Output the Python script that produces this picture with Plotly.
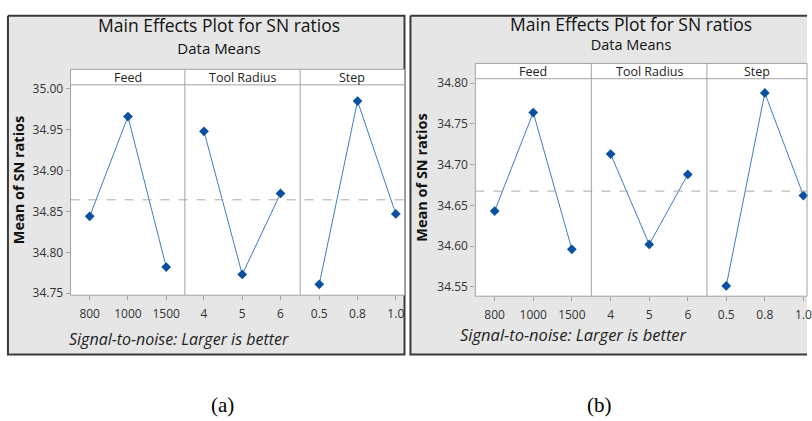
import numpy as np
import plotly.graph_objects as go

# ---------------- data ----------------
factor_names = ["Feed", "Tool Radius", "Step"]
feed_levels = ["800", "1000", "1500"]
radius_levels = ["4", "5", "6"]
step_levels = ["0.5", "0.8", "1.0"]

# panel (a) mean SN ratios
sn_a_feed = [34.844, 34.966, 34.782]
sn_a_radius = [34.948, 34.773, 34.872]
sn_a_step = [34.761, 34.985, 34.847]

# panel (b) mean SN ratios
sn_b_feed = [34.643, 34.764, 34.596]
sn_b_radius = [34.713, 34.602, 34.688]
sn_b_step = [34.551, 34.788, 34.662]

y_ticks_a = [34.75, 34.80, 34.85, 34.90, 34.95, 35.00]
y_ticks_b = [34.55, 34.60, 34.65, 34.70, 34.75, 34.80]
tick_fmt = "{:.2f}"

title_text = "Main Effects Plot for SN ratios"
subtitle_text = "Data Means"
y_title = "Mean of SN ratios"
footnote = "Signal-to-noise: Larger is better"
panel_labels = ["(a)", "(b)"]

# ---------------- layout helpers ----------------
W, H = 812, 421
def px(x):
    return x / W
def py(y):
    return 1 - y / H

FONT = "Open Sans"
LINE_C = "#3d7cc9"
MARK_C = "#0a50a1"
BORDER_C = "#a3a3a3"
FRAME_FILL = "#e6e6e6"
FRAME_LINE = "#3a3a3a"

panels = [
    dict(frame=(8, 11, 407, 359), xedges=[71, 186, 302, 407], ytop=82, ybot=298,
         strip=(66, 82), yrange=[34.7476, 35.0048], yticks=y_ticks_a,
         series=[sn_a_feed, sn_a_radius, sn_a_step],
         title_x=220, title_y=31, base_size=17, title_size=17.5, sub_size=15,
         ytitle=(18, 180), foot=(180, 343), foot_size=16, label=(224, 411)),
    dict(frame=(413, 11, 840, 359), xedges=[478.3, 595, 711.3, 812], ytop=75.7, ybot=299,
         strip=(60, 75.7), yrange=[34.5384, 34.8055], yticks=y_ticks_b,
         series=[sn_b_feed, sn_b_radius, sn_b_step],
         title_x=635, title_y=29, base_size=14.6, title_size=17.5, sub_size=14.5,
         ytitle=(424, 177), foot=(578, 338), foot_size=16.5, label=(603, 411)),
]
levels = [feed_levels, radius_levels, step_levels]

fig = go.Figure()
top_shapes = []
annotations = []
layout_axes = {}

# background subplot in pixel units, drawn beneath the data subplots
layout_axes["xaxis"] = dict(domain=[0, 1], range=[0, W], visible=False, fixedrange=True)
layout_axes["yaxis"] = dict(domain=[0, 1], range=[H, 0], visible=False, fixedrange=True)

def rect_xy(x0, y0, x1, y1):
    return [x0, x1, x1, x0, x0], [y0, y0, y1, y1, y0]

for p in panels:
    rx, ry = rect_xy(*p["frame"])
    fig.add_trace(go.Scatter(x=rx, y=ry, xaxis="x", yaxis="y", mode="lines", fill="toself",
                             fillcolor=FRAME_FILL, line=dict(color=FRAME_LINE, width=2),
                             hoverinfo="skip", showlegend=False))
for p in panels:
    xe = p["xedges"]
    rx, ry = rect_xy(xe[0], p["strip"][0], xe[3], p["strip"][1])
    fig.add_trace(go.Scatter(x=rx, y=ry, xaxis="x", yaxis="y", mode="lines", fill="toself",
                             fillcolor="white", line=dict(width=0, color="white"),
                             hoverinfo="skip", showlegend=False))

ax_i = 1
for p_i, p in enumerate(panels):
    xe = p["xedges"]
    unit = (xe[2] - xe[0]) / 6.0
    yname = "y%d" % (p_i + 2)
    ykey = "yaxis%d" % (p_i + 2)
    first_x = None
    for f_i in range(3):
        ax_i += 1
        xname = "x%d" % ax_i
        xkey = "xaxis%d" % ax_i
        if first_x is None:
            first_x = xname
        width_px = xe[f_i + 1] - xe[f_i]
        rng = [-0.5, -0.5 + width_px / unit]
        layout_axes[xkey] = dict(
            domain=[px(xe[f_i]), px(xe[f_i + 1])], anchor=yname,
            type="category", range=rng, showgrid=False, zeroline=False,
            showline=False, ticks="outside", ticklen=4, tickcolor=BORDER_C,
            ticklabelstandoff=3,
            tickfont=dict(family=FONT, size=12, color="#333333"),
            categoryorder="array", categoryarray=levels[f_i], fixedrange=True)
        vals = p["series"][f_i]
        fig.add_trace(go.Scatter(
            x=levels[f_i], y=vals, xaxis=xname, yaxis=yname, mode="lines+markers",
            line=dict(color=LINE_C, width=1),
            marker=dict(symbol="diamond", size=7.5, color=MARK_C),
            showlegend=False, cliponaxis=False, hoverinfo="x+y"))
        annotations.append(dict(text=factor_names[f_i], xref="paper", yref="paper",
                                x=px((xe[f_i] + xe[f_i + 1]) / 2),
                                y=py((p["strip"][0] + p["strip"][1]) / 2),
                                showarrow=False, xanchor="center", yanchor="middle",
                                font=dict(family=FONT, size=12.5, color="#222222")))
    layout_axes[ykey] = dict(
        domain=[py(p["ybot"]), py(p["ytop"])], anchor=first_x, range=p["yrange"],
        tickvals=p["yticks"], ticktext=[tick_fmt.format(v) for v in p["yticks"]],
        showgrid=False, zeroline=False, showline=False, ticks="outside", ticklen=4,
        tickcolor=BORDER_C, tickfont=dict(family=FONT, size=12, color="#333333"),
        fixedrange=True)

    # overall mean reference line
    grand_mean = float(np.mean(np.concatenate(p["series"])))
    top_shapes.append(dict(type="line", xref="paper", yref=yname, layer="above",
                           x0=px(xe[0]), x1=px(xe[3]), y0=grand_mean, y1=grand_mean,
                           line=dict(color="#a8a8a8", width=1, dash="dash")))
    top_shapes.append(dict(type="line", xref="paper", yref="paper", layer="above",
                           x0=px(xe[0]), x1=px(xe[3]), y0=py(p["strip"][1]), y1=py(p["strip"][1]),
                           line=dict(color=BORDER_C, width=1)))
    top_shapes.append(dict(type="rect", xref="paper", yref="paper", layer="above",
                           x0=px(xe[0]), x1=px(xe[3]), y0=py(p["ybot"]), y1=py(p["strip"][0]),
                           line=dict(color=BORDER_C, width=1)))
    for e in xe[1:3]:
        top_shapes.append(dict(type="line", xref="paper", yref="paper", layer="above",
                               x0=px(e), x1=px(e), y0=py(p["ybot"]), y1=py(p["strip"][0]),
                               line=dict(color=BORDER_C, width=1)))

    annotations.append(dict(
        text="<span style='font-size:%spx'>%s</span><br><span style='font-size:%spx'>%s</span>"
             % (p["title_size"], title_text, p["sub_size"], subtitle_text),
        xref="paper", yref="paper", x=px(p["title_x"]), y=py(p["title_y"]),
        showarrow=False, xanchor="center", yanchor="middle", align="center",
        font=dict(family=FONT, size=p["base_size"], color="#111111")))
    annotations.append(dict(text="<b>" + y_title + "</b>", xref="paper", yref="paper",
                            x=px(p["ytitle"][0]), y=py(p["ytitle"][1]), showarrow=False,
                            textangle=-90, xanchor="center", yanchor="middle",
                            font=dict(family=FONT, size=14.5, color="#111111")))
    annotations.append(dict(text="<i>" + footnote + "</i>", xref="paper", yref="paper",
                            x=px(p["foot"][0]), y=py(p["foot"][1]), showarrow=False,
                            xanchor="center", yanchor="middle",
                            font=dict(family=FONT, size=p["foot_size"], color="#222222")))
    annotations.append(dict(text=panel_labels[p_i], xref="paper", yref="paper",
                            x=px(p["label"][0]), y=py(p["label"][1]), showarrow=False,
                            xanchor="center", yanchor="middle",
                            font=dict(family="Liberation Serif", size=21, color="#000000")))

fig.update_layout(
    width=W, height=H, margin=dict(l=0, r=0, t=0, b=0),
    paper_bgcolor="white", plot_bgcolor="white",
    shapes=top_shapes, annotations=annotations,
    showlegend=False, **layout_axes)

fig.write_html("out.html", config={"displayModeBar": False})
